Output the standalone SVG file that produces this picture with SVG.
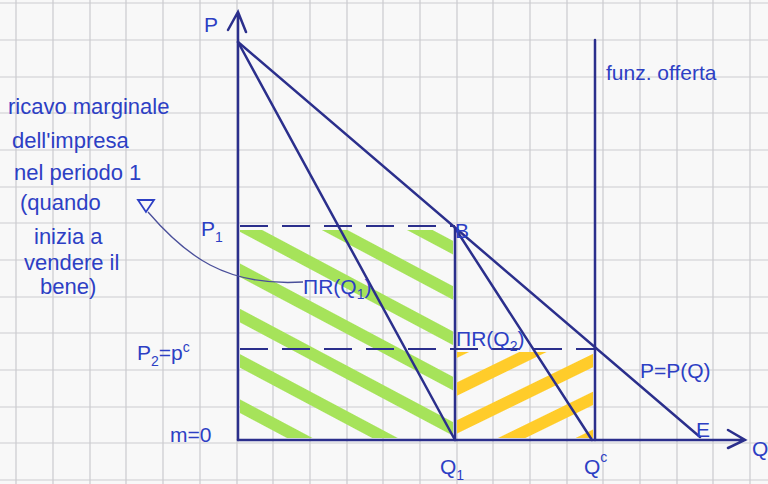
<svg xmlns="http://www.w3.org/2000/svg" width="768" height="484" viewBox="0 0 768 484">
<defs>
<style>
.ln{stroke:#2b2f8c;stroke-width:2.5;fill:none;stroke-linecap:round}
.ds{stroke:#2b2f8c;stroke-width:2;fill:none;stroke-dasharray:28 14}
.t{font-family:"Liberation Sans","DejaVu Sans",sans-serif;fill:#2d3fc4;font-size:21px}
.s{font-size:22px}
.grid{stroke:#cbcbcf;stroke-width:1.2}
</style>
<pattern id="gr" patternUnits="userSpaceOnUse" width="40" height="40" patternTransform="rotate(28)">
<rect x="0" y="0" width="40" height="12" fill="#a6e35a"/>
</pattern>
<pattern id="ye" patternUnits="userSpaceOnUse" width="34" height="34" patternTransform="rotate(-26)">
<rect x="0" y="0" width="34" height="12" fill="#ffcc2a"/>
</pattern>
</defs>
<rect width="768" height="484" fill="#f8f8f8"/>
<g id="grid">
<path class="grid" d="M16,0V484M53,0V484M90,0V484M126,0V484M163,0V484M200,0V484M237,0V484M273,0V484M310,0V484M347,0V484M383,0V484M420,0V484M457,0V484M493,0V484M530,0V484M567,0V484M603,0V484M640,0V484M677,0V484M713,0V484M750,0V484"/>
<path class="grid" d="M0,3H768M0,40H768M0,77H768M0,113H768M0,150H768M0,187H768M0,223H768M0,260H768M0,297H768M0,333H768M0,370H768M0,407H768M0,443H768M0,480H768"/>
</g>
<g id="areas">
<rect x="240" y="230" width="213" height="208" fill="url(#gr)"/>
<rect x="457" y="352" width="136" height="86" fill="url(#ye)"/>
</g>
<g id="connectors">
<path class="ln" d="M238,440V12M228,30L238,12L246,32"/>
<path class="ln" d="M238,440H745M728,430L745,440L728,448"/>
<path class="ln" d="M238,42L700,437"/>
<path class="ln" d="M238,42L455,440"/>
<path class="ln" d="M455,228L592,440"/>
<path class="ln" d="M455,228V440"/>
<path class="ln" d="M595,40V440"/>
<path class="ds" d="M240,226H455"/>
<path class="ds" d="M240,349H595"/>
<path d="M148,212C185,255 225,287 303,282" stroke="#4a4f9a" stroke-width="1.3" fill="none"/>
<path d="M138,200L154,200L146,212Z" stroke="#2d3fc4" stroke-width="1.8" fill="none"/>
</g>
<g id="labels">
<text class="t" x="204" y="32">P</text>
<text class="t s" x="8" y="114">ricavo marginale</text>
<text class="t s" x="12" y="148">dell'impresa</text>
<text class="t s" x="14" y="180">nel periodo 1</text>
<text class="t s" x="20" y="210">(quando</text>
<text class="t s" x="34" y="244">inizia a</text>
<text class="t s" x="24" y="270">vendere il</text>
<text class="t s" x="40" y="294">bene)</text>
<text class="t" x="201" y="236">P<tspan font-size="14" dy="6">1</tspan></text>
<text class="t" x="455" y="238">B</text>
<text class="t" x="303" y="294">ΠR(Q<tspan font-size="14" dy="5">1</tspan><tspan dy="-5">)</tspan></text>
<text class="t" x="456" y="346">ΠR(Q<tspan font-size="14" dy="5">2</tspan><tspan dy="-5">)</tspan></text>
<text class="t" x="137" y="360">P<tspan font-size="14" dy="6">2</tspan><tspan dy="-6">=p</tspan><tspan font-size="14" dy="-8">c</tspan></text>
<text class="t" x="170" y="442">m=0</text>
<text class="t" x="640" y="378">P=P(Q)</text>
<text class="t" x="440" y="474">Q<tspan font-size="14" dy="6">1</tspan></text>
<text class="t" x="584" y="474">Q<tspan font-size="14" dy="-12">c</tspan></text>
<text class="t" x="696" y="437">E</text>
<text class="t" x="752" y="456">Q</text>
<text class="t" x="606" y="80">funz. offerta</text>
</g>
</svg>
